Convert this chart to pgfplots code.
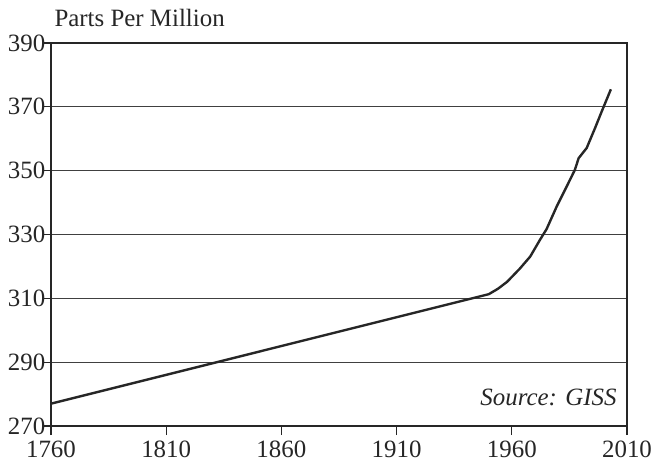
\documentclass[border=0pt]{standalone}
\usepackage{fontspec}
\setmainfont{Liberation Serif}
\usepackage{pgfplots}
\pgfplotsset{compat=1.18}

\begin{document}
\begin{tikzpicture}
  \begin{axis}[
    scale only axis,
    width=576bp, height=383bp,
    xmin=1760, xmax=2010,
    ymin=270, ymax=390,
    xtick={1760,1810,1860,1910,1960,2010},
    ytick={270,290,310,330,350,370,390},
    xtick pos=left, ytick pos=left,
    tick align=outside,
    x tick style={line width=1.2pt, black!85},
    y tick style={line width=1.2pt, black!85},
    xtick style={/pgfplots/major tick length=9bp},
    ytick style={/pgfplots/major tick length=7bp},
    axis line style={line width=2pt, black!85},
    ymajorgrids,
    major grid style={line width=0.9pt, black!75},
    /pgf/number format/assume math mode=true,
    /pgf/number format/1000 sep={},
    tick label style={font=\fontsize{25}{28}\selectfont, text=black!85},
    xticklabel style={yshift=-7bp},
    yticklabel style={xshift=2bp},
    clip=false,
  ]
    \addplot[line width=2.4pt, black!85, line join=round] coordinates {
      (1760,277.0) (1950,311.3) (1954,313.0) (1958,315.2) (1963.6,319.4)
      (1968,323.1) (1972.2,328.3) (1975.1,331.7) (1979.5,338.8)
      (1983.8,345.0) (1987.4,350.3) (1989,353.9) (1992.5,357.1)
      (1996.1,363.3) (1999,368.5) (2003,375.5)
    };
    \node[anchor=base west, font=\fontsize{25}{28}\selectfont, text=black!85]
      at (rel axis cs:0,1) [yshift=16bp] {Parts Per Million};
    \node[anchor=base east, font=\fontsize{25}{28}\itshape, text=black!85]
      at (rel axis cs:1,0) [xshift=-7bp, yshift=21bp] {Source: GISS};
    \coordinate (ll) at (rel axis cs:0,0);
    \coordinate (ur) at (rel axis cs:1,1);
  \end{axis}
  \pgfresetboundingbox
  \path[use as bounding box] ([shift={(-51bp,-37bp)}]ll) rectangle ([shift={(32bp,43bp)}]ur);
\end{tikzpicture}
\end{document}
